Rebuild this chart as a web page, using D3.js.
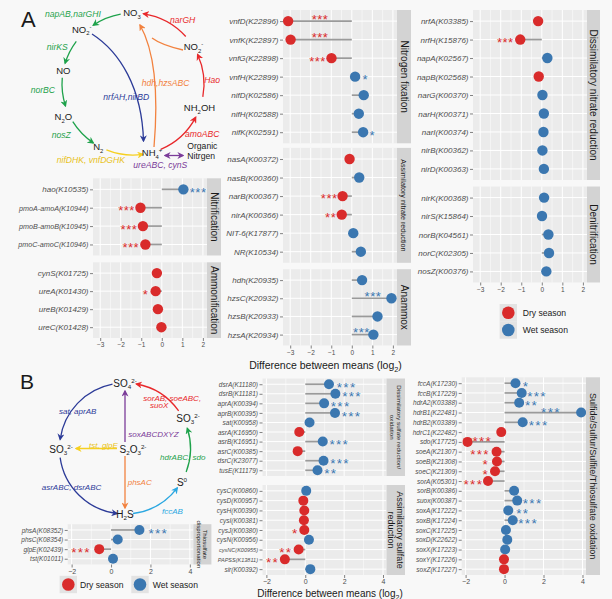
<!DOCTYPE html>
<html><head><meta charset="utf-8">
<script src="https://cdn.jsdelivr.net/npm/d3@7"></script>
<style>
body{margin:0;background:#f8f8f8;}
svg{display:block;font-family:"Liberation Sans",Arial,Helvetica,sans-serif;}
</style></head><body>
<svg id="c" width="612" height="599"></svg>
<script>
// ---------------- DATA ----------------
const domainA = [-3.35, 2.2];
const domainB = [-2.2, 4.18];
const ticksA = [-3, -2, -1, 0, 1, 2];
const ticksB = [-2, 0, 2, 4];
const seasons = ["Dry season", "Wet season"];

// Panel A
const nitrifLabels = ["hao(K10535)", "pmoA-amoA(K10944)", "pmoB-amoB(K10945)", "pmoC-amoC(K10946)"];
const nitrifValues = [1.05, -1.04, -0.92, -0.80];
const nitrifSig    = ["***", "***", "***", "***"];
const nitrifStarX  = [1.77, -1.72, -1.60, -1.51];

const ammonLabels = ["cynS(K01725)", "ureA(K01430)", "ureB(K01429)", "ureC(K01428)"];
const ammonValues = [-0.24, -0.30, -0.19, -0.02];
const ammonSig    = ["", "*", "", ""];
const ammonStarX  = [null, -0.79, null, null];

const nfixLabels = ["vnfD(K22896)", "vnfK(K22897)", "vnfG(K22898)", "vnfH(K22899)", "nifD(K02586)", "nifH(K02588)", "nifK(K02591)"];
const nfixValues = [-3.10, -2.98, -0.99, 0.16, 0.58, 0.34, 0.55];
const nfixSig    = ["***", "***", "***", "*", "", "", "*"];
const nfixStarX  = [-1.55, -1.55, -1.67, 0.65, null, null, 1.0];

const assimNLabels = ["nasA(K00372)", "nasB(K00360)", "narB(K00367)", "nirA(K00366)", "NIT-6(K17877)", "NR(K10534)"];
const assimNValues = [-0.11, 0.36, -0.45, -0.49, 0.07, 0.44];
const assimNSig    = ["", "", "***", "**", "", ""];
const assimNStarX  = [null, null, -1.10, -1.03, null, null];

const anammoxLabels = ["hdh(K20935)", "hzsC(K20932)", "hzsB(K20933)", "hzsA(K20934)"];
const anammoxValues = [0.50, 1.93, 1.25, 1.05];
const anammoxSig    = ["", "***", "", "***"];
const anammoxStarX  = [null, 1.03, null, 0.47];

const dnraLabels = ["nrfA(K03385)", "nrfH(K15876)", "napA(K02567)", "napB(K02568)", "narG(K00370)", "narH(K00371)", "narI(K00374)", "nirB(K00362)", "nirD(K00363)"];
const dnraValues = [-0.18, -1.05, 0.27, -0.15, 0.03, 0.10, 0.08, 0.03, 0.10];
const dnraSig    = ["", "***", "", "", "", "", "", "", ""];
const dnraStarX  = [null, -1.78, null, null, null, null, null, null, null];

const denitLabels = ["nirK(K00368)", "nirS(K15864)", "norB(K04561)", "norC(K02305)", "nosZ(K00376)"];
const denitValues = [0.11, 0.01, 0.32, 0.35, 0.22];
const denitSig    = ["", "", "", "", ""];
const denitStarX  = [null, null, null, null, null];

// Panel B
const dsrLabels = ["dsrA(K11180)", "dsrB(K11181)", "aprA(K00394)", "aprB(K00395)", "sat(K00958)", "asrA(K16950)", "asrB(K16951)", "asrC(K00385)", "dsrC(K23077)", "tusE(K11179)"];
const dsrValues = [1.22, 1.55, 0.97, 1.53, 0.22, -0.31, 0.90, -0.39, 0.94, 0.63];
const dsrSig    = ["***", "***", "***", "***", "", "", "***", "", "***", "**"];
const dsrStarX  = [2.13, 2.41, 1.82, 2.38, null, null, 1.75, null, 1.79, 1.31];

const asrLabels = ["cysC(K00860)", "cysD(K00957)", "cysH(K00390)", "cysI(K00381)", "cysJ(K00380)", "cysN(K00956)", "cysNC(K00955)", "PAPSS(K13811)", "sir(K00392)"];
const asrValues = [0.05, -0.10, -0.05, -0.07, -0.05, 0.19, -0.34, -1.05, 0.26];
const asrSig    = ["", "", "", "", "*", "", "**", "**", ""];
const asrStarX  = [null, null, null, null, -0.51, null, -1.00, -1.68, null];

const sulfLabels = ["fccA(K17230)", "fccB(K17229)", "hdrA2(K03388)", "hdrB1(K22481)", "hdrB2(K03389)", "hdrC1(K22482)", "sdo(K17725)", "soeA(K21307)", "soeB(K21308)", "soeC(K21309)", "sorA(K05301)", "sorB(K00386)", "suox(K00387)", "soxA(K17222)", "soxB(K17224)", "soxC(K17225)", "soxD(K22622)", "soxX(K17223)", "soxY(K17226)", "soxZ(K17227)"];
const sulfValues = [0.56, 0.88, 0.75, 3.93, 0.93, -0.17, -1.90, -0.41, -0.39, -0.49, -0.85, 0.49, 0.65, 0.19, 0.42, 0.07, 0.14, 0.03, -0.03, -0.03];
const sulfSig    = ["*", "***", "**", "***", "***", "", "***", "***", "*", "*", "***", "", "***", "**", "***", "", "", "", "", ""];
const sulfStarX  = [1.10, 1.67, 1.38, 2.38, 1.75, null, -1.14, -1.26, -0.97, -0.97, -1.60, null, 1.44, 0.93, 1.21, null, null, null, null, null];

const thioLabels = ["phsA(K08352)", "phsC(K08354)", "glpE(K02439)", "tst(K01011)"];
const thioValues = [1.44, 0.34, -0.60, 0.10];
const thioSig    = ["***", "", "***", ""];
const thioStarX  = [2.40, null, -1.52, null];

// ---------------- DRAWING ----------------
const FONT = '"Liberation Sans",Arial,Helvetica,sans-serif';
const RED = "#d92b2b", BLUE = "#3b77b0";
const svg = d3.select("#c");
const smallLabels = new Set(["cysNC(K00955)", "PAPSS(K13811)"]);

function drawPanel(o) {
  const g = svg.append("g");
  const x = d3.scaleLinear().domain(o.domain).range([o.x0, o.x1]);
  const y = d3.scalePoint().domain(o.labels).range([o.y0, o.y1]).padding(0.6);
  g.append("rect").attr("x", o.x0).attr("y", o.y0).attr("width", o.x1 - o.x0).attr("height", o.y1 - o.y0).attr("fill", "#ebebeb");
  const step = o.ticks[1] - o.ticks[0];
  const minors = d3.range(o.ticks[0] - step / 2, o.ticks[o.ticks.length - 1] + step, step).filter(v => v > o.domain[0] && v < o.domain[1]);
  g.selectAll(null).data(minors).join("line")
    .attr("x1", d => x(d)).attr("x2", d => x(d)).attr("y1", o.y0).attr("y2", o.y1)
    .attr("stroke", "#fff").attr("stroke-width", 0.5);
  g.selectAll(null).data(o.ticks).join("line")
    .attr("x1", d => x(d)).attr("x2", d => x(d)).attr("y1", o.y0).attr("y2", o.y1)
    .attr("stroke", "#fff").attr("stroke-width", 1);
  g.selectAll(null).data(o.labels).join("line")
    .attr("x1", o.x0).attr("x2", o.x1).attr("y1", d => y(d)).attr("y2", d => y(d))
    .attr("stroke", "#fff").attr("stroke-width", 1);
  const data = o.labels.map((l, i) => ({ l, v: o.values[i], s: o.sig[i], sx: o.starX[i] }));
  g.selectAll(null).data(data).join("line")
    .attr("x1", x(0)).attr("x2", d => x(d.v)).attr("y1", d => y(d.l)).attr("y2", d => y(d.l))
    .attr("stroke", "#9a9a9a").attr("stroke-width", 1.7);
  g.selectAll(null).data(data).join("circle")
    .attr("cx", d => x(d.v)).attr("cy", d => y(d.l)).attr("r", o.r)
    .attr("fill", d => d.v < 0 ? RED : BLUE);
  g.selectAll(null).data(data.filter(d => d.s)).join("text")
    .attr("x", d => x(d.sx))
    .attr("y", d => y(d.l) + (d.sx * (d.sx - d.v) < 0 ? o.starFs * 0.57 - o.raise : o.starFs * 0.57))
    .attr("text-anchor", "middle").attr("font-size", o.starFs).attr("letter-spacing", o.starLs)
    .attr("fill", d => d.v < 0 ? RED : BLUE).text(d => d.s);
  // y axis
  const ya = g.append("g").attr("transform", `translate(${o.x0},0)`)
    .call(d3.axisLeft(y).tickSize(3).tickPadding(1.5));
  ya.attr("font-family", FONT).attr("font-size", o.labFs);
  ya.select(".domain").remove();
  ya.selectAll("line").attr("stroke", "#333").attr("stroke-width", 0.6);
  ya.selectAll("text").attr("fill", "#4d4d4d").attr("font-style", "italic")
    .attr("font-size", d => smallLabels.has(d) ? o.labFs * 0.85 : (d.length > 14 ? o.labFs * 0.9 : o.labFs));
  // strip
  const sw = o.stripW;
  g.append("rect").attr("x", o.x1).attr("y", o.y0).attr("width", sw).attr("height", o.y1 - o.y0).attr("fill", "#d3d3d3");
  const st = g.append("text")
    .attr("transform", `translate(${o.x1 + sw / 2},${(o.y0 + o.y1) / 2}) rotate(90)`)
    .attr("text-anchor", "middle").attr("font-size", o.stripFs).attr("fill", "#1a1a1a");
  const n = o.strip.length, lh = o.stripFs * 1.05;
  o.strip.forEach((s, i) => {
    st.append("tspan").attr("x", 0).attr("y", (i - (n - 1) / 2) * lh + o.stripFs * 0.35).text(s);
  });
  if (o.axis) {
    const xa = g.append("g").attr("transform", `translate(0,${o.y1})`)
      .call(d3.axisBottom(x).tickValues(o.ticks).tickSize(3).tickPadding(1.5).tickFormat(d3.format("d")));
    xa.attr("font-family", FONT).attr("font-size", o.tickFs);
    xa.select(".domain").remove();
    xa.selectAll("line").attr("stroke", "#333").attr("stroke-width", 0.6);
    xa.selectAll("text").attr("fill", "#4d4d4d");
  }
}

const A = { domain: domainA, ticks: ticksA, r: 5.2, starFs: 13, starLs: 0.5, raise: 5, labFs: 8, tickFs: 6.5, stripW: 14, stripFs: 10 };
const B = { domain: domainB, ticks: ticksB, r: 5, starFs: 13.5, starLs: 1.3, raise: 3.5, labFs: 6.5, tickFs: 7, stripW: 14, stripFs: 9 };

drawPanel({ ...A, labels: nitrifLabels, values: nitrifValues, sig: nitrifSig, starX: nitrifStarX, x0: 93, x1: 207, y0: 178.3, y1: 255.5, strip: ["Nitrification"] });
drawPanel({ ...A, labels: ammonLabels, values: ammonValues, sig: ammonSig, starX: ammonStarX, x0: 93, x1: 207, y0: 262.3, y1: 338, strip: ["Ammonification"], axis: true });
drawPanel({ ...A, labels: nfixLabels, values: nfixValues, sig: nfixSig, starX: nfixStarX, x0: 283, x1: 397, y0: 10, y1: 143.3, strip: ["Nitrogen fixation"] });
drawPanel({ ...A, labels: assimNLabels, values: assimNValues, sig: assimNSig, starX: assimNStarX, x0: 283, x1: 397, y0: 147.9, y1: 262.8, strip: ["Assimilatory nitrate reduction"], stripFs: 7.2 });
drawPanel({ ...A, labels: anammoxLabels, values: anammoxValues, sig: anammoxSig, starX: anammoxStarX, x0: 283, x1: 397, y0: 269.2, y1: 345.5, strip: ["Anammox"], axis: true });
drawPanel({ ...A, labels: dnraLabels, values: dnraValues, sig: dnraSig, starX: dnraStarX, x0: 473, x1: 587, y0: 10, y1: 180, strip: ["Dissimilatory nitrate reduction"], stripW: 13 });
drawPanel({ ...A, labels: denitLabels, values: denitValues, sig: denitSig, starX: denitStarX, x0: 473, x1: 587, y0: 186.5, y1: 282.5, strip: ["Denitrification"], stripW: 13, axis: true });

drawPanel({ ...B, labels: dsrLabels, values: dsrValues, sig: dsrSig, starX: dsrStarX, x0: 262.5, x1: 386.5, y0: 378.5, y1: 476, strip: ["Dissimilatory sulfate reduction/", "oxidation"], stripW: 18.5, stripFs: 6.2 });
drawPanel({ ...B, labels: asrLabels, values: asrValues, sig: asrSig, starX: asrStarX, x0: 262.5, x1: 386.5, y0: 485, y1: 575, strip: ["Assimilatory sulfate", "reduction"], stripW: 18.5, stripFs: 9, axis: true });
drawPanel({ ...B, labels: sulfLabels, values: sulfValues, sig: sulfSig, starX: sulfStarX, x0: 461.7, x1: 586, y0: 377.3, y1: 575, strip: ["Sulfide/Sulfur/Sulfite/Thiosulfate oxidation"], axis: true });
drawPanel({ ...B, labels: thioLabels, values: thioValues, sig: thioSig, starX: thioStarX, x0: 67.7, x1: 193.4, y0: 524.2, y1: 564.5, strip: ["Thiosulfate", "disproportionation"], stripW: 18, stripFs: 6, axis: true });

// axis titles
function title(x, y, fs) {
  const t = svg.append("text").attr("x", x).attr("y", y).attr("text-anchor", "middle").attr("font-size", fs).attr("fill", "#1a1a1a");
  t.append("tspan").text("Difference between means (log");
  t.append("tspan").attr("font-size", fs * 0.7).attr("dy", fs * 0.25).text("2");
  t.append("tspan").attr("dy", -fs * 0.25).text(")");
}
title(325.5, 369, 10.5);
title(330, 597, 10);

// legends
function legend(items) {
  items.forEach((it, i) => {
    svg.append("rect").attr("x", it.kx - 8.7).attr("y", it.ky - 8.7).attr("width", 17.4).attr("height", 17.4).attr("fill", "#e3e3e3");
    svg.append("circle").attr("cx", it.kx).attr("cy", it.ky).attr("r", 6.3).attr("fill", i === 0 ? RED : BLUE);
    svg.append("text").attr("x", it.tx).attr("y", it.ky + 3).attr("font-size", 8.6).attr("fill", "#1a1a1a").text(seasons[i]);
  });
}
legend([{ kx: 508.3, ky: 312.7, tx: 522.7 }, { kx: 508.3, ky: 330, tx: 522.7 }]);
legend([{ kx: 68.3, ky: 584.5, tx: 80 }, { kx: 140, ky: 584.5, tx: 152.7 }]);

// ---------------- DIAGRAMS ----------------
const C = { green: "#1ea24b", red: "#e8282b", orange: "#f2823f", blue: "#2c3b98", yellow: "#f6d020", purple: "#7b3c99", lblue: "#2aa7e1" };
const defs = svg.append("defs");
Object.entries(C).forEach(([k, c]) => {
  defs.append("marker").attr("id", "ah-" + k).attr("viewBox", "0 0 10 10").attr("refX", 8).attr("refY", 5)
    .attr("markerWidth", 7).attr("markerHeight", 7).attr("markerUnits", "userSpaceOnUse").attr("orient", "auto-start-reverse")
    .append("path").attr("d", "M0,0 L10,5 L0,10 L3,5 Z").attr("fill", c);
});
const rad = a => a * Math.PI / 180;
function arc(cx, cy, r, a1, a2, col) {
  const p1 = [cx + r * Math.cos(rad(a1)), cy + r * Math.sin(rad(a1))];
  const p2 = [cx + r * Math.cos(rad(a2)), cy + r * Math.sin(rad(a2))];
  const sweep = a2 > a1 ? 1 : 0;
  svg.append("path").attr("d", `M${p1[0]},${p1[1]} A${r},${r} 0 0 ${sweep} ${p2[0]},${p2[1]}`)
    .attr("fill", "none").attr("stroke", C[col]).attr("stroke-width", 1.3).attr("marker-end", `url(#ah-${col})`);
}
function path(d, col, both, noArrow) {
  const p = svg.append("path").attr("d", d).attr("fill", "none").attr("stroke", C[col]).attr("stroke-width", 1.3);
  if (!noArrow) p.attr("marker-end", `url(#ah-${col})`);
  if (both) p.attr("marker-start", `url(#ah-${col})`);
}
function chem(x, y, segs, fs) {
  const t = svg.append("text").attr("x", x).attr("y", y + fs * 0.36).attr("text-anchor", "middle").attr("font-size", fs).attr("fill", "#1a1a1a");
  let cur = 0;
  segs.forEach(([s, k]) => {
    const off = k === "sub" ? 0.28 * fs : k === "sup" ? -0.4 * fs : 0;
    t.append("tspan").attr("dy", off - cur).attr("font-size", k ? fs * 0.62 : fs).text(s);
    cur = off;
  });
}
function gene(x, y, s, col, fs, italic = true) {
  svg.append("text").attr("x", x).attr("y", y + fs * 0.35).attr("font-size", fs).attr("font-style", italic ? "italic" : "normal")
    .attr("fill", C[col] || col).text(s);
}

// Panel A diagram
svg.append("text").attr("x", 21).attr("y", 27).attr("font-size", 22).attr("fill", "#1a1a1a").text("A");
const ca = [133, 84, 71];
arc(...ca, -100, -124, "green");
arc(...ca, -143, -163, "green");
arc(...ca, -175, -198, "green");
arc(...ca, 148, 124, "green");
arc(...ca, 112, 82, "yellow");
arc(...ca, 67, 28, "red");
arc(...ca, 10.5, -24.5, "red");
arc(...ca, -42, -81.5, "red");
path("M92,34 C120,52 142,88 143.5,141", "blue");
path("M154,147 C158,100 157,55 140,25", "orange");
path("M183,50 C170,47 160,44 152,38", "orange", false, true);
path("M165,155.5 L183,155.5", "purple", true);

chem(133, 12.7, [["NO"], ["3", "sub"], ["-", "sup"]], 9.5);
chem(81.7, 29.3, [["NO"], ["2", "sub"], ["-", "sup"]], 9.5);
chem(63.3, 71, [["NO"]], 9.5);
chem(63.3, 116.7, [["N"], ["2", "sub"], ["O"]], 9.5);
chem(98.3, 146.7, [["N"], ["2", "sub"]], 9.5);
chem(152, 152.7, [["NH"], ["4", "sub"], ["+", "sup"]], 9.5);
chem(199.5, 107.7, [["NH"], ["2", "sub"], ["OH"]], 9.5);
chem(193.5, 46.7, [["NO"], ["2", "sub"], ["-", "sup"]], 9.5);

gene(45, 14, "napAB,narGHI", "green", 8.6);
gene(46.7, 46.7, "nirKS", "green", 8.6);
gene(30.7, 90, "norBC", "green", 8.6);
gene(51.7, 135, "nosZ", "green", 8.6);
gene(56.7, 160, "nifDHK, vnfDGHK", "#e8c21a", 8.6);
gene(103.3, 96.7, "nrfAH,nirBD", "blue", 8.6);
gene(141.7, 82.7, "hdh,hzsABC", "orange", 8.6);
gene(204.3, 80, "Hao", "red", 8.6);
gene(170, 20, "narGH", "red", 8.6);
gene(185, 134.3, "amoABC", "red", 8.6);
gene(133.3, 165, "ureABC, cynS", "purple", 8.6);
gene(187.3, 145.7, "Organic", "#1a1a1a", 8.6, false);
gene(187.3, 156, "Nitrgen", "#1a1a1a", 8.6, false);

// Panel B diagram
svg.append("text").attr("x", 20).attr("y", 389).attr("font-size", 21).attr("fill", "#1a1a1a").text("B");
const cb = [125, 448.5, 65.5];
arc(...cb, -101, -172, "blue");
arc(...cb, 172, 97, "blue");
arc(...cb, 83, 37, "lblue");
arc(...cb, 21, -18, "green");
arc(...cb, -35, -80, "red");
path("M125,442 L125,391", "purple");
path("M117,448.5 L76,448.5", "yellow");
path("M125,456 L125,508", "orange");

chem(125, 383, [["SO"], ["4", "sub"], ["2-", "sup"]], 10);
chem(188, 418, [["SO"], ["3", "sub"], ["2-", "sup"]], 10);
chem(182, 482, [["S"], ["0", "sup"]], 10);
chem(125, 514, [["H"], ["2", "sub"], ["S"]], 10);
chem(61, 449, [["SO"], ["3", "sub"], ["2-", "sup"]], 10);
chem(133, 449, [["S"], ["2", "sub"], ["O"], ["3", "sub"], ["2-", "sup"]], 10);

gene(59, 410.7, "sat, aprAB", "blue", 8);
gene(41.7, 486.7, "asrABC, dsrABC", "blue", 8);
gene(162, 511, "fccAB", "lblue", 8);
gene(160, 456.7, "hdrABC, sdo", "green", 8);
gene(143.3, 398.3, "sorAB, soeABC,", "red", 8);
gene(150, 405, "suoX", "red", 8);
gene(128.3, 434, "soxABCDXYZ", "purple", 8);
gene(89, 445, "tst, glpE", "#e8c21a", 8);
gene(127.7, 481.7, "phsAC", "orange", 8);
</script>
</body></html>
